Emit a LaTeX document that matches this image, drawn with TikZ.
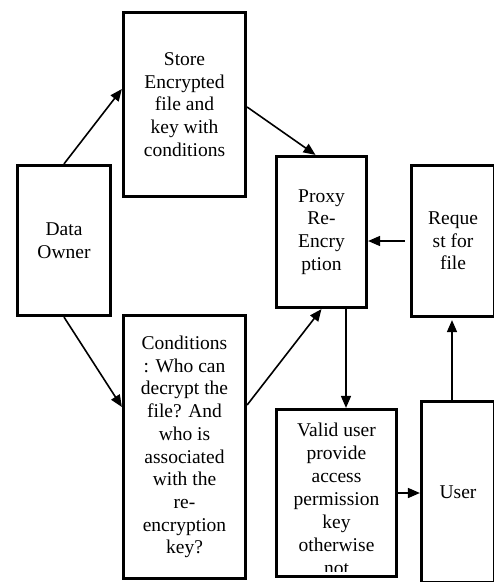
\documentclass[tikz,border=0pt]{standalone}
\usepackage{fontspec}
\setmainfont{Liberation Serif}
\usetikzlibrary{arrows.meta,calc}
\tikzset{
  box/.style={draw=black, line width=3.2pt, fill=white, rectangle, inner sep=0pt,
    align=center, font=\fontsize{19.5}{22.7}\selectfont},
  txt/.style={inner sep=0pt, align=center, font=\fontsize{19.5}{23}\selectfont},
  arr/.style={draw=black, line width=1.6pt, -{Triangle[length=12pt,width=10pt]}}
}
\begin{document}
\begin{tikzpicture}[x=1pt,y=-1pt]
\useasboundingbox (0,0) rectangle (494,582);
\clip (0,0) rectangle (494,582);
\fill[white] (0,0) rectangle (494,582);

\node[box, minimum width=93pt, minimum height=150pt] (owner) at (64,240.5) {Data\\Owner};
\node[box, minimum width=122pt, minimum height=184pt] (store) at (184.5,104.5) {Store\\Encrypted\\file and\\key with\\conditions};
\node[box, minimum width=90pt, minimum height=151pt] (proxy) at (321.5,232) {Proxy\\Re-\\Encry\\ption};
\node[box, minimum width=83pt, minimum height=151pt] (request) at (453,241) {Reque\\st for\\file};
\node[box, minimum width=122pt, minimum height=263pt] (cond) at (184.5,447) {Conditions\\: Who can\\decrypt the\\file? And\\who is\\associated\\with the\\re-\\encryption\\key?};
\node[box, minimum width=120pt, minimum height=167pt] (valid) at (336.5,493) {};
\node[box, minimum width=73pt, minimum height=181pt] (user) at (458,492) {User};

\begin{scope}
  \clip ([shift={(3pt,6.5pt)}]valid.south west) rectangle ([shift={(-3pt,-3pt)}]valid.north east);
  \node[txt, anchor=north] (validtext) at ([yshift=-14.5pt]valid.north) {Valid user\\provide\\access\\permission\\key\\otherwise\\not};
\end{scope}

\draw[arr] (owner.north) -- ([yshift=15.5pt]store.west);
\draw[arr] ([yshift=-2.5pt]store.east) -- ([xshift=-6pt]proxy.north);
\draw[arr] (owner.south) -- ([yshift=40pt]cond.west);
\draw[arr] ([yshift=42pt]cond.east) -- (proxy.south);
\draw[arr] ([xshift=24.5pt]proxy.south) -- ([xshift=24.5pt]proxy.south |- valid.north);
\draw[arr] ([xshift=-5pt]request.west) -- (proxy.east |- request.west);
\draw[arr] ([xshift=-6pt,yshift=-2pt]user.north) -- ([xshift=-6pt,yshift=-2pt]user.north |- request.south);
\draw[arr] (valid.east) -- (user.west |- valid.east);
\end{tikzpicture}
\end{document}
